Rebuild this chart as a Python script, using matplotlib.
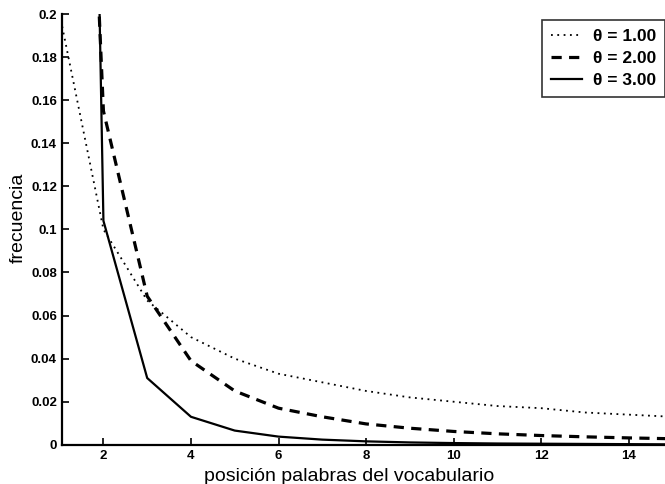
import numpy as np
import matplotlib
matplotlib.use('Agg')
from matplotlib import pyplot as plt

plt.rcParams['font.family'] = ['Liberation Sans', 'DejaVu Sans']

rank = [1, 2, 3, 4, 5, 6, 7, 8, 9, 10, 11, 12, 13, 14, 15]
theta1 = [0.2, 0.1, 0.067, 0.05, 0.04, 0.033, 0.029, 0.025, 0.022, 0.02, 0.018, 0.017, 0.015, 0.014, 0.013]
theta2 = [0.62, 0.155, 0.069, 0.039, 0.025, 0.017, 0.013, 0.0097, 0.0077, 0.0062, 0.0051, 0.0043, 0.0037, 0.0032, 0.0028]
theta3 = [1.2, 0.104, 0.031, 0.013, 0.0066, 0.0038, 0.0024, 0.0016, 0.0011, 0.0008, 0.0006, 0.0005, 0.0004, 0.0003, 0.0002]
labels = ['\u03b8 = 1.00', '\u03b8 = 2.00', '\u03b8 = 3.00']

fig = plt.figure(figsize=(6.65, 4.84), dpi=100)
ax = fig.add_axes([0.093, 0.081, 0.907, 0.89])

ax.plot(rank, theta1, 'k', lw=1.3, dashes=(1, 2.5), label=labels[0])
ax.plot(rank, theta2, 'k', lw=2.3, dashes=(3.2, 2.3), label=labels[1])
ax.plot(rank, theta3, 'k-', lw=1.6, label=labels[2])

ax.set_xlim(1.05, 14.83)
ax.set_ylim(0, 0.2)
ax.set_xticks([2, 4, 6, 8, 10, 12, 14])
ax.set_yticks(np.arange(0, 0.201, 0.02))
ax.set_yticklabels(['0', '0.02', '0.04', '0.06', '0.08', '0.1', '0.12', '0.14', '0.16', '0.18', '0.2'])
ax.tick_params(direction='in', length=5, width=1.2, labelsize=9.5)
for t in ax.get_xticklabels() + ax.get_yticklabels():
    t.set_fontweight('bold')

ax.spines['top'].set_visible(False)
ax.spines['right'].set_visible(False)
ax.spines['left'].set_linewidth(1.6)
ax.spines['bottom'].set_linewidth(1.6)

ax.set_xlabel('posición palabras del vocabulario', fontsize=14)
ax.set_ylabel('frecuencia', fontsize=14)
ax.xaxis.set_label_coords(0.476, -0.054)
ax.yaxis.set_label_coords(-0.058, 0.527)

leg = ax.legend(loc='upper right', bbox_to_anchor=(1.0, 0.986), fontsize=12.5,
                frameon=True, fancybox=False, handlelength=1.8, handletextpad=0.65,
                borderaxespad=0, borderpad=0.5, labelspacing=0.4)
leg.get_frame().set_edgecolor('black')
leg.get_frame().set_linewidth(1.2)
for t in leg.get_texts():
    t.set_fontweight('bold')

fig.savefig('out.png', dpi=100)
